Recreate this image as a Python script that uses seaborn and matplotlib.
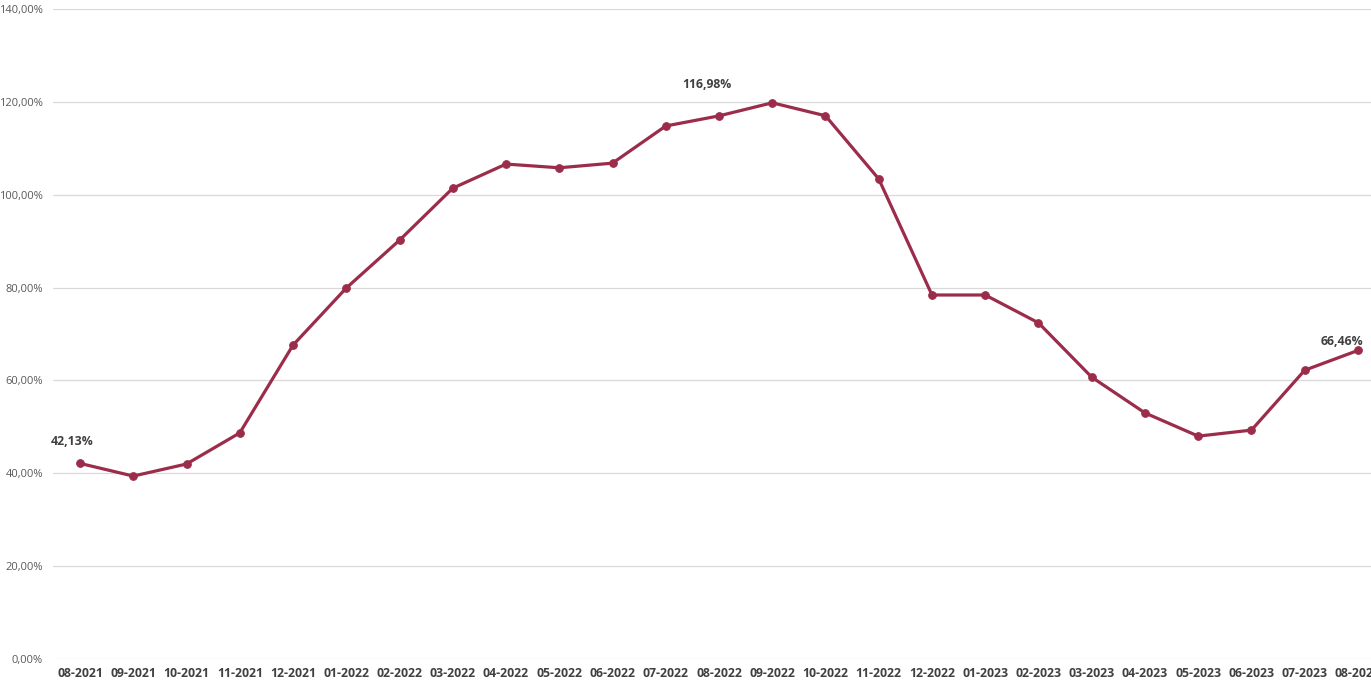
import matplotlib
matplotlib.use("Agg")
import matplotlib.pyplot as plt
import seaborn as sns
import pandas as pd
import numpy as np

months = ["08-2021", "09-2021", "10-2021", "11-2021", "12-2021", "01-2022", "02-2022",
          "03-2022", "04-2022", "05-2022", "06-2022", "07-2022", "08-2022", "09-2022",
          "10-2022", "11-2022", "12-2022", "01-2023", "02-2023", "03-2023", "04-2023",
          "05-2023", "06-2023", "07-2023", "08-2023"]
values = [42.13, 39.4, 42.0, 48.7, 67.6, 79.9, 90.2, 101.4, 106.6, 105.8, 106.8, 114.8,
          116.98, 119.8, 117.0, 103.4, 78.4, 78.4, 72.4, 60.7, 53.0, 48.0, 49.3, 62.2, 66.46]
labeled = {0: "42,13%", 12: "116,98%", 24: "66,46%"}
yticks = [0, 20, 40, 60, 80, 100, 120, 140]

sns.set_theme(style="white")
plt.rcParams['font.family'] = ['Open Sans', 'DejaVu Sans']

W, H = 1371, 688
fig = plt.figure(figsize=(W / 100, H / 100), dpi=100)
left = 53.4 / W
bottom = (H - 659) / H
width = (1384.6 - 53.4) / W
height = 650 / H
ax = fig.add_axes([left, bottom, width, height])

df = pd.DataFrame({"pos": np.arange(len(months)), "val": values})
color = "#9B2D4A"
sns.lineplot(data=df, x="pos", y="val", ax=ax, color=color, linewidth=2.3,
             marker="o", markersize=5.5, markeredgecolor=color, sort=False)

ax.set_xlim(-0.5, len(months) - 0.5)
ax.set_ylim(0, 140)
ax.set_yticks(yticks)
ax.set_yticklabels([f"{v},00%" for v in yticks], color="#595959", fontsize=8)
ax.set_xticks(range(len(months)))
ax.set_xticklabels(months, color="#404040", fontsize=8.8, fontweight="bold")
ax.tick_params(axis="both", length=0)
ax.tick_params(axis="y", pad=7.5)
ax.tick_params(axis="x", pad=6)
ax.yaxis.grid(True, color="#D9D9D9", linewidth=0.9)
ax.xaxis.grid(False)
for s in ax.spines.values():
    s.set_visible(False)
ax.set_xlabel("")
ax.set_ylabel("")

offsets = {0: (-6, 11, "center"), 12: (-9, 18, "center"), 24: (4, 1.5, "right")}
for i, txt in labeled.items():
    dx, dy, ha = offsets[i]
    ax.annotate(txt, (i, values[i]), xytext=(dx, dy), textcoords="offset points",
                ha=ha, va="bottom", fontsize=8.8, fontweight="bold", color="#404040")

fig.savefig("out.png", dpi=100)
